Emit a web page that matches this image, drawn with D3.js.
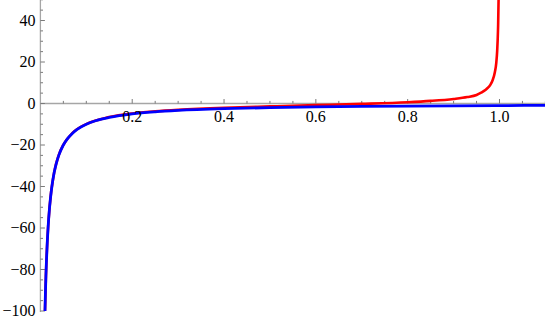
<!DOCTYPE html>
<html>
<head>
<meta charset="utf-8">
<script src="https://cdn.jsdelivr.net/npm/d3@7"></script>
<style>
  html, body { margin: 0; padding: 0; background: #fff; }
  svg { display: block; }
</style>
</head>
<body>
<svg id="chart" width="545" height="320"></svg>
<script>
// ---- data ----
const blueX = [0.01, 0.011, 0.012, 0.013, 0.015, 0.017, 0.02, 0.025, 0.03, 0.035, 0.04, 0.05, 0.06, 0.07, 0.08, 0.1, 0.12, 0.15, 0.2, 0.25, 0.3, 0.4, 0.5, 0.6, 0.7, 0.8, 0.9, 1.0, 1.1];
const blueY = [-100, -90.9, -83.3, -76.9, -66.7, -58.8, -50, -40, -33.3, -28.6, -25, -20, -16.7, -14.3, -12.5, -10, -8.3, -6.7, -5, -4, -3.33, -2.5, -2, -1.67, -1.43, -1.25, -1.11, -1.0, -0.91];

const redX = [0.01, 0.012, 0.015, 0.02, 0.03, 0.04, 0.05, 0.07, 0.1, 0.15, 0.2, 0.25, 0.3, 0.4, 0.5, 0.6, 0.7, 0.8, 0.85, 0.9, 0.93, 0.95, 0.96, 0.97, 0.975, 0.98, 0.985, 0.99, 0.993, 0.995, 0.996, 0.997, 0.998, 0.9985];
const redY = [-99.9, -83.2, -66.6, -49.9, -33.2, -24.9, -19.9, -14.2, -9.9, -6.55, -4.8, -3.78, -3.05, -2.05, -1.4, -0.8, -0.2, 0.6, 1.25, 2.2, 3.1, 4.1, 5.2, 6.6, 7.6, 9.0, 11.2, 15.2, 19.6, 25.5, 30.5, 37.5, 50, 61];

const xMajor = [0.2, 0.4, 0.6, 0.8, 1.0];
const xMajorLabels = ["0.2", "0.4", "0.6", "0.8", "1.0"];
const yMajor = [40, 20, 0, -20, -40, -60, -80, -100];
const yMajorLabels = ["40", "20", "0", "\u221220", "\u221240", "\u221260", "\u221280", "\u2212100"];

// ---- drawing ----
const svg = d3.select("#chart");
const W = 545, H = 320;
const FONT = "'Liberation Serif', 'DejaVu Serif', 'Times New Roman', Times, serif";

const x = d3.scaleLinear().domain([0, 1.1]).range([40.4, 545.4]);
const y = d3.scaleLinear().domain([-100, 50]).range([311, -0.25]);

const xMinor = d3.range(1, 23).map(i => i * 0.05).filter(v => !xMajor.some(m => Math.abs(m - v) < 1e-9));
const yMinor = d3.range(-100, 51, 5).filter(v => !yMajor.includes(v));

const axisColor = "#a6a6a6";
const tickColor = "#7a7a7a";

// x axis line
svg.append("line")
  .attr("x1", x(0)).attr("x2", W)
  .attr("y1", y(0)).attr("y2", y(0))
  .attr("stroke", axisColor).attr("stroke-width", 1.6);
// y axis line
svg.append("line")
  .attr("x1", x(0)).attr("x2", x(0))
  .attr("y1", 0).attr("y2", y(-100) + 1)
  .attr("stroke", axisColor).attr("stroke-width", 1.3);

// x ticks (pointing up)
svg.append("g").selectAll("line").data(xMajor).join("line")
  .attr("x1", d => x(d)).attr("x2", d => x(d))
  .attr("y1", y(0)).attr("y2", y(0) - 4.5)
  .attr("stroke", tickColor).attr("stroke-width", 1);
svg.append("g").selectAll("line").data(xMinor).join("line")
  .attr("x1", d => x(d)).attr("x2", d => x(d))
  .attr("y1", y(0)).attr("y2", y(0) - 2.6)
  .attr("stroke", tickColor).attr("stroke-width", 1);

// y ticks (pointing right)
svg.append("g").selectAll("line").data(yMajor).join("line")
  .attr("x1", x(0)).attr("x2", x(0) + 4.5)
  .attr("y1", d => y(d)).attr("y2", d => y(d))
  .attr("stroke", tickColor).attr("stroke-width", 1);
svg.append("g").selectAll("line").data(yMinor).join("line")
  .attr("x1", x(0)).attr("x2", x(0) + 2.6)
  .attr("y1", d => y(d)).attr("y2", d => y(d))
  .attr("stroke", tickColor).attr("stroke-width", 1);

// curves
svg.append("defs").append("clipPath").attr("id", "plotclip")
  .append("rect").attr("x", x(0)).attr("y", -2).attr("width", W).attr("height", y(-100) + 3);

const line = d3.line().curve(d3.curveMonotoneX);
const redPts = redX.map((v, i) => [x(v), y(redY[i])]);
const bluePts = blueX.map((v, i) => [x(v), y(blueY[i])]);

svg.append("path")
  .attr("d", line(redPts))
  .attr("fill", "none").attr("stroke", "#ff0000").attr("stroke-width", 2.6)
  .attr("clip-path", "url(#plotclip)");
svg.append("path")
  .attr("d", line(bluePts))
  .attr("fill", "none").attr("stroke", "#0000ff").attr("stroke-width", 2.8)
  .attr("clip-path", "url(#plotclip)");

// labels
svg.append("g").selectAll("text").data(xMajor).join("text")
  .attr("x", d => x(d)).attr("y", y(0) + 18)
  .attr("text-anchor", "middle")
  .attr("font-family", FONT).attr("font-size", 16).attr("fill", "#000")
  .style("font-family", FONT)
  .text((d, i) => xMajorLabels[i]);
svg.append("g").selectAll("text").data(yMajor).join("text")
  .attr("x", 35.5).attr("y", d => y(d) + 5.3)
  .attr("text-anchor", "end")
  .attr("font-family", FONT).attr("font-size", 16).attr("fill", "#000")
  .style("font-family", FONT)
  .text((d, i) => yMajorLabels[i]);
</script>
</body>
</html>
